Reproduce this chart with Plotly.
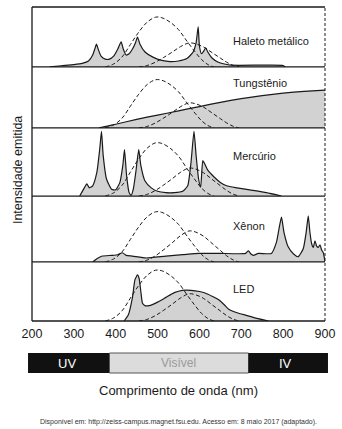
import plotly.graph_objects as go

# ---- wavelength axis ----
x_ticks = [200, 300, 400, 500, 600, 700, 800, 900]

# ---- emission spectra (nm, relative intensity within each panel) ----
haleto_nm = [243, 270, 300, 320, 335, 345, 350, 354, 358, 365, 375, 385, 395, 405, 413, 418,
             425, 432, 440, 447, 452, 458, 470, 490, 510, 530, 550, 570, 585, 592, 597, 600,
             605, 610, 615, 620, 630, 645, 660, 675, 750, 800, 805]
haleto_i = [0.0, 0.02, 0.04, 0.06, 0.1, 0.2, 0.3, 0.38, 0.3, 0.18, 0.13, 0.13, 0.18, 0.3, 0.42, 0.3,
            0.2, 0.22, 0.3, 0.4, 0.5, 0.38, 0.25, 0.16, 0.11, 0.09, 0.1, 0.14, 0.25, 0.4, 0.67, 0.35,
            0.22, 0.26, 0.32, 0.25, 0.15, 0.08, 0.05, 0.03, 0.03, 0.025, 0.0]

tungst_nm = [360, 380, 400, 450, 500, 550, 600, 650, 700, 750, 800, 850, 900]
tungst_i = [0.0, 0.03, 0.06, 0.14, 0.21, 0.28, 0.35, 0.42, 0.48, 0.53, 0.57, 0.60, 0.62]

merc_nm = [314, 325, 331, 337, 345, 355, 362, 366, 370, 378, 390, 400, 410, 417, 421, 426, 432,
           437, 442, 448, 455, 460, 470, 485, 500, 520, 540, 560, 572, 580, 587, 592, 598, 603,
           608, 612, 620, 635, 650, 665, 690, 720, 760, 796]
merc_i = [0.0, 0.12, 0.18, 0.12, 0.15, 0.35, 0.7, 0.95, 0.6, 0.25, 0.1, 0.09, 0.2, 0.45, 0.68, 0.3, 0.05,
          0.01, 0.1, 0.35, 0.68, 0.45, 0.22, 0.12, 0.07, 0.05, 0.05, 0.07, 0.15, 0.5, 0.95, 0.6, 0.25, 0.13,
          0.52, 0.48, 0.38, 0.28, 0.2, 0.15, 0.12, 0.09, 0.05, 0.0]

xenon_nm = [345, 355, 368, 390, 405, 416, 425, 440, 473, 520, 560, 599, 650, 710, 717, 723, 729, 741,
            772, 784, 790, 796, 802, 812, 825, 836, 848, 855, 860, 864, 868, 872, 876, 880, 884,
            888, 892, 896, 900]
xenon_i = [0.0, 0.05, 0.09, 0.1, 0.11, 0.14, 0.1, 0.09, 0.06, 0.09, 0.11, 0.13, 0.13, 0.13, 0.17, 0.12,
           0.1, 0.13, 0.13, 0.3, 0.5, 0.68, 0.45, 0.23, 0.12, 0.08, 0.2, 0.45, 0.7, 0.45, 0.28, 0.22,
           0.32, 0.24, 0.22, 0.26, 0.18, 0.14, 0.0]

led_nm = [420, 430, 440, 446, 452, 456, 460, 464, 470, 480, 500, 520, 540, 559, 580, 600, 615, 630,
          646, 660, 670, 690, 710, 740, 765]
led_i = [0.0, 0.1, 0.4, 0.7, 0.78, 0.72, 0.5, 0.3, 0.26, 0.26, 0.32, 0.4, 0.48, 0.52, 0.52, 0.5,
         0.47, 0.42, 0.36, 0.27, 0.2, 0.14, 0.1, 0.04, 0.0]

# ---- eye sensitivity curves (normalised shape) ----
sens_a_nm = [375, 395, 415, 435, 455, 475, 495, 510, 530, 550, 570, 590, 605, 620, 635]
sens_a = [0.0, 0.06, 0.2, 0.45, 0.7, 0.9, 1.0, 0.99, 0.9, 0.75, 0.52, 0.3, 0.15, 0.05, 0.0]
sens_b_nm = [455, 475, 495, 515, 535, 555, 575, 590, 610, 630, 650, 665, 680, 695]
sens_b = [0.0, 0.06, 0.2, 0.4, 0.62, 0.85, 1.0, 0.97, 0.83, 0.6, 0.37, 0.2, 0.07, 0.0]

# peak heights of the two sensitivity curves in each panel
sens_a_peak = [0.83, 0.79, 0.78, 0.76, 0.86]
sens_b_peak = [0.40, 0.41, 0.41, 0.47, 0.46]

lamps = ["Haleto metálico", "Tungstênio", "Mercúrio", "Xênon", "LED"]
spectra = [(haleto_nm, haleto_i), (tungst_nm, tungst_i), (merc_nm, merc_i),
           (xenon_nm, xenon_i), (led_nm, led_i)]

# panel boundaries, top to bottom (paper fraction)
bounds = [1.0, 0.809, 0.615, 0.398, 0.188, 0.0]

INK = "#1a1a1a"
FILL = "#d2d2d2"

fig = go.Figure()
layout_axes = {}
for k, (name, (nm, inten)) in enumerate(zip(lamps, spectra)):
    yname = "y" if k == 0 else f"y{k + 1}"
    fig.add_trace(go.Scatter(
        x=nm, y=inten, xaxis="x", yaxis=yname, mode="lines",
        line=dict(color=INK, width=1.2, shape="spline", smoothing=0.5),
        fill="tozeroy", fillcolor=FILL, hoverinfo="skip", showlegend=False))
    fig.add_trace(go.Scatter(
        x=sens_a_nm, y=[v * sens_a_peak[k] for v in sens_a], xaxis="x", yaxis=yname,
        mode="lines", line=dict(color=INK, width=1, dash="4px,2.5px", shape="spline"),
        hoverinfo="skip", showlegend=False))
    fig.add_trace(go.Scatter(
        x=sens_b_nm, y=[v * sens_b_peak[k] for v in sens_b], xaxis="x", yaxis=yname,
        mode="lines", line=dict(color=INK, width=1, dash="4px,2.5px", shape="spline"),
        hoverinfo="skip", showlegend=False))
    key = "yaxis" if k == 0 else f"yaxis{k + 1}"
    layout_axes[key] = dict(domain=[bounds[k + 1], bounds[k]], range=[0, 1],
                            showgrid=False, zeroline=False, showticklabels=False,
                            showline=False, fixedrange=True)

label_y = [41, 83, 156, 226, 289]
PLOT_TOP, PLOT_BOT = 7, 321


def py(px):
    return (PLOT_BOT - px) / (PLOT_BOT - PLOT_TOP)


def pxx(px):
    return (px - 32) / 295


def note(text, x, y, size, color=INK, xanchor="center", **kw):
    return dict(text=text, x=pxx(x), y=py(y), xref="paper", yref="paper",
                xanchor=xanchor, yanchor="middle", showarrow=False,
                font=dict(size=size, color=color), **kw)


annotations = [note(name, 232, ly, 11, xanchor="left") for name, ly in zip(lamps, label_y)]

shapes = []
# panel separators and frame
for b in bounds:
    shapes.append(dict(type="line", xref="paper", yref="paper", x0=0, x1=1, y0=b, y1=b,
                       line=dict(color=INK, width=1.5 if b == 1.0 else 1.3)))
shapes.append(dict(type="line", xref="paper", yref="paper", x0=0, x1=0, y0=0, y1=1,
                   line=dict(color=INK, width=1.3)))
shapes.append(dict(type="line", xref="paper", yref="paper", x0=1, x1=1, y0=0, y1=1,
                   line=dict(color=INK, width=1, dash="3px,2px")))

# spectral band bar: UV / visible / IR
bar_top, bar_bot = py(353), py(373)
shapes.append(dict(type="rect", xref="paper", yref="paper", x0=pxx(28), x1=pxx(110),
                   y0=bar_bot, y1=bar_top, fillcolor="#111111", line=dict(width=0)))
shapes.append(dict(type="rect", xref="paper", yref="paper", x0=pxx(110), x1=pxx(250),
                   y0=bar_bot, y1=bar_top, fillcolor="#dcdcdc", line=dict(color="#555555", width=1)))
shapes.append(dict(type="rect", xref="paper", yref="paper", x0=pxx(250), x1=pxx(330),
                   y0=bar_bot, y1=bar_top, fillcolor="#111111", line=dict(width=0)))

annotations += [
    note("UV", 67, 363, 13, "white"),
    note("Visível", 180, 363, 12, "#9a9a9a"),
    note("IV", 287, 363, 13, "white"),
    note("Comprimento de onda (nm)", 180, 390, 13),
    note("Disponível em: http://zeiss-campus.magnet.fsu.edu. Acesso em: 8 maio 2017 (adaptado).",
         180, 422, 7, "#333333"),
    note("Intensidade emitida", 18, 170, 12.5, textangle=-90),
]

fig.update_layout(
    width=342, height=429,
    margin=dict(l=32, r=15, t=7, b=108),
    paper_bgcolor="white", plot_bgcolor="white",
    font=dict(family="Liberation Sans, Arial, sans-serif", color=INK),
    xaxis=dict(range=[200, 900], anchor="y5", tickvals=x_ticks, showgrid=False,
               zeroline=False, showline=False, ticks="", ticklabelstandoff=3,
               tickfont=dict(size=12.5, color=INK), fixedrange=True),
    shapes=shapes, annotations=annotations,
    **layout_axes,
)

fig.write_html("out.html", config={"displayModeBar": False})
